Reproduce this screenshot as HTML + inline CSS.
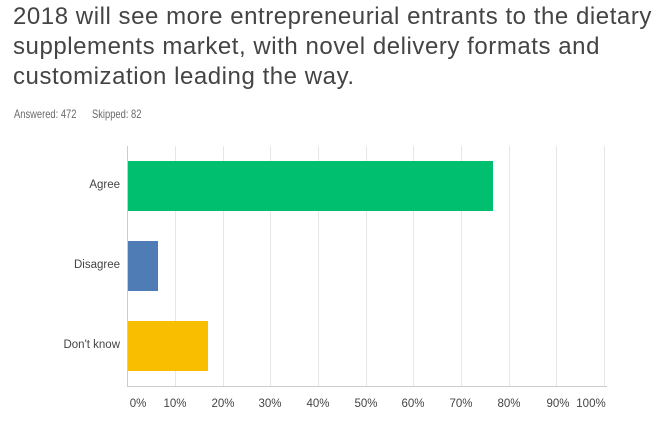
<!DOCTYPE html>
<html><head><style>
body{margin:0;width:671px;height:426px;background:#fff;position:relative;overflow:hidden;font-family:"Liberation Sans",sans-serif}
.t{position:absolute;left:13px;top:2px;font-size:24px;line-height:30px;color:#444;letter-spacing:0.55px;width:660px;white-space:nowrap}
.s{position:absolute;top:107px;font-size:12px;color:#6a6a6a;transform:scaleX(0.78);transform-origin:left;white-space:nowrap}
.g{position:absolute;top:146px;height:240px;width:1px;background:#e6e6e6}
.b{position:absolute;left:128px;height:50px}
.l{position:absolute;width:110px;left:10px;text-align:right;font-size:11.5px;color:#444}
.x{position:absolute;top:398px;font-size:11.5px;color:#444;width:40px;text-align:center}
</style></head><body>
<div class="t">2018 will see more entrepreneurial entrants to the dietary<br>supplements market, with novel delivery formats and<br>customization leading the way.</div>
<div class="s" style="left:14px">Answered: 472</div>
<div class="s" style="left:92px">Skipped: 82</div>
<div class="g" style="left:127px;background:#ccc"></div>
<div class="g" style="left:175px"></div><div class="g" style="left:223px"></div><div class="g" style="left:270px"></div><div class="g" style="left:318px"></div><div class="g" style="left:366px"></div><div class="g" style="left:413px"></div><div class="g" style="left:461px"></div><div class="g" style="left:509px"></div><div class="g" style="left:556px"></div><div class="g" style="left:604px"></div>
<div style="position:absolute;left:127px;top:386px;width:480px;height:1px;background:#ccc"></div>
<div class="b" style="top:161px;width:365px;background:#00bf6f"></div>
<div class="b" style="top:241px;width:30px;background:#507cb6"></div>
<div class="b" style="top:321px;width:80px;background:#f9be00"></div>
<div class="l" style="top:179px">Agree</div>
<div class="l" style="top:259px">Disagree</div>
<div class="l" style="top:339px">Don't know</div>
<div class="x" style="left:118px">0%</div><div class="x" style="left:155px">10%</div><div class="x" style="left:203px">20%</div><div class="x" style="left:250px">30%</div><div class="x" style="left:298px">40%</div><div class="x" style="left:346px">50%</div><div class="x" style="left:393px">60%</div><div class="x" style="left:441px">70%</div><div class="x" style="left:489px">80%</div><div class="x" style="left:538px">90%</div><div class="x" style="left:571px">100%</div>
</body></html>
